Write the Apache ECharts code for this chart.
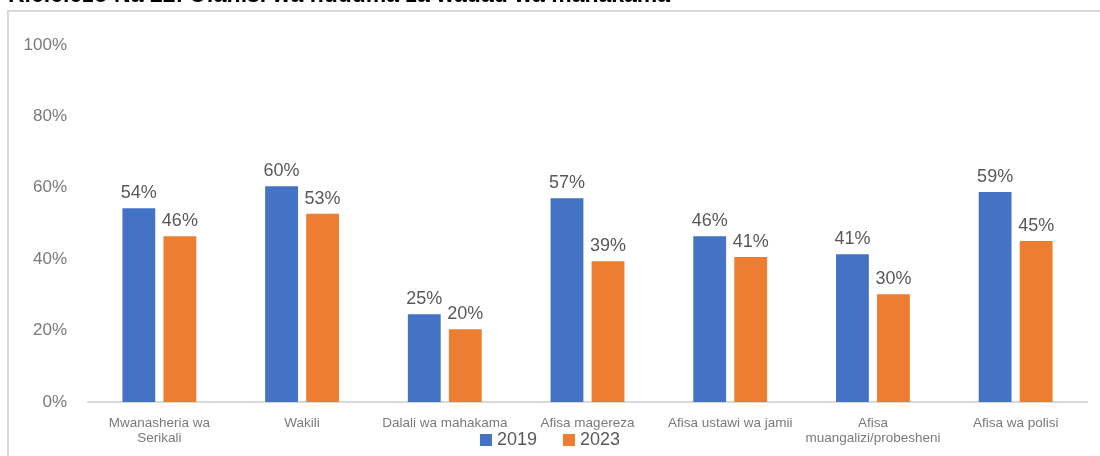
<!DOCTYPE html>
<html>
<head>
<meta charset="utf-8">
<script src="https://cdn.jsdelivr.net/npm/echarts@6/dist/echarts.min.js"></script>
<style>
  html, body { margin: 0; padding: 0; background: #fff; }
  #chart { width: 1100px; height: 456px; }
</style>
</head>
<body>
<div id="chart"></div>
<script>
// data
const categories = [
  "Mwanasheria wa\nSerikali",
  "Wakili",
  "Dalali wa mahakama",
  "Afisa magereza",
  "Afisa ustawi wa jamii",
  "Afisa\nmuangalizi/probesheni",
  "Afisa wa polisi",
];
const values2019 = [54.3, 60.4, 24.6, 57.1, 46.4, 41.4, 58.8];
const values2023 = [46.4, 52.7, 20.4, 39.4, 40.6, 30.2, 45.1];
const yTicks = [0, 20, 40, 60, 80, 100];
const titleText = "Kielelezo Na 22: Ufanisi wa huduma za wadau wa mahakama";

const FONT = "Liberation Sans, Arial, sans-serif";
const chart = echarts.init(document.getElementById("chart"));

const barLabel = {
  show: true,
  position: "top",
  distance: 6,
  color: "#595959",
  fontSize: 18,
  fontFamily: FONT,
  formatter: (p) => Math.round(p.value) + "%",
};

chart.setOption({
  animation: false,
  textStyle: { fontFamily: FONT },
  graphic: [
    {
      type: "rect",
      shape: { x: 8, y: 11, width: 1100, height: 460 },
      style: { fill: "none", stroke: "#d9d9d9", lineWidth: 2 },
      silent: true,
    },
    {
      type: "text",
      x: 8,
      y: 7,
      style: {
        text: titleText,
        font: "bold 23px " + FONT,
        fill: "#000",
        verticalAlign: "bottom",
      },
    },
  ],
  legend: {
    data: ["2019", "2023"],
    bottom: 2,
    left: "center",
    icon: "rect",
    itemWidth: 12,
    itemHeight: 12,
    itemGap: 26,
    textStyle: { color: "#595959", fontSize: 18, fontFamily: FONT },
  },
  grid: { left: 88, right: 13, top: 45, bottom: 54 },
  xAxis: {
    type: "category",
    data: categories,
    axisLine: { lineStyle: { color: "#d9d9d9", width: 2 } },
    axisTick: { show: false },
    axisLabel: {
      color: "#7a7a7a",
      fontSize: 13.5,
      lineHeight: 15,
      margin: 14,
      interval: 0,
    },
  },
  yAxis: {
    type: "value",
    min: yTicks[0],
    max: yTicks[yTicks.length - 1],
    interval: 20,
    splitLine: { show: false },
    axisLine: { show: false },
    axisTick: { show: false },
    axisLabel: {
      color: "#7a7a7a",
      fontSize: 17,
      margin: 21,
      formatter: (v) => v + "%",
    },
  },
  series: [
    {
      name: "2019",
      type: "bar",
      data: values2019,
      barWidth: "23%",
      barGap: "25%",
      itemStyle: { color: "#4472C4" },
      label: barLabel,
    },
    {
      name: "2023",
      type: "bar",
      data: values2023,
      barWidth: "23%",
      itemStyle: { color: "#ED7D31" },
      label: barLabel,
    },
  ],
});
</script>
</body>
</html>
